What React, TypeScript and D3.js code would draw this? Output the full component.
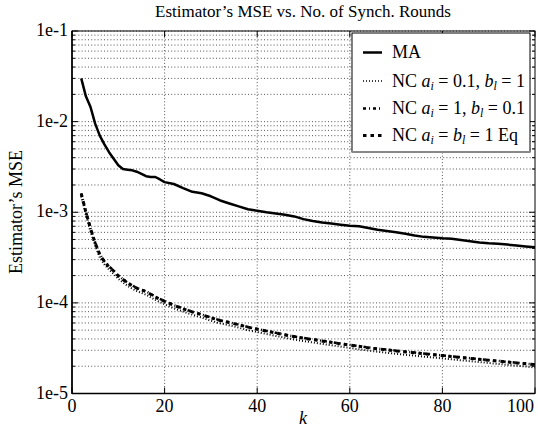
import React from "react";
import * as d3 from "d3";

// MA estimator
const maK = [2, 3, 4, 5, 6, 7, 8, 9, 10, 11, 12, 13, 14, 15, 16, 17, 18, 19, 20, 22, 24, 26, 28, 30, 32, 34, 36, 38, 40, 42, 44, 46, 48, 50, 52, 54, 56, 58, 60, 62, 64, 66, 68, 70, 72, 74, 76, 78, 80, 82, 84, 86, 88, 90, 92, 94, 96, 98, 100];
const maMSE = [3.0e-2, 1.9e-2, 1.45e-2, 9.5e-3, 7.0e-3, 5.6e-3, 4.6e-3, 3.9e-3, 3.3e-3, 3.0e-3, 2.95e-3, 2.9e-3, 2.8e-3, 2.65e-3, 2.5e-3, 2.45e-3, 2.45e-3, 2.3e-3, 2.15e-3, 2.05e-3, 1.85e-3, 1.68e-3, 1.62e-3, 1.5e-3, 1.35e-3, 1.25e-3, 1.16e-3, 1.08e-3, 1.04e-3, 1.0e-3, 9.7e-4, 9.4e-4, 9.0e-4, 8.4e-4, 8.0e-4, 7.7e-4, 7.5e-4, 7.3e-4, 7.1e-4, 7.0e-4, 6.7e-4, 6.4e-4, 6.2e-4, 6.0e-4, 5.8e-4, 5.55e-4, 5.35e-4, 5.25e-4, 5.15e-4, 5.1e-4, 4.95e-4, 4.8e-4, 4.65e-4, 4.55e-4, 4.5e-4, 4.4e-4, 4.3e-4, 4.2e-4, 4.1e-4];

// NC estimators
const ncK = [2, 3, 4, 5, 6, 7, 8, 9, 10, 12, 14, 16, 18, 20, 22, 24, 26, 28, 30, 32, 35, 38, 41, 44, 47, 50, 55, 60, 65, 70, 75, 80, 85, 90, 95, 100];
const ncEq = [1.6e-3, 1.0e-3, 6.6e-4, 4.6e-4, 3.4e-4, 2.85e-4, 2.5e-4, 2.25e-4, 1.98e-4, 1.66e-4, 1.45e-4, 1.33e-4, 1.16e-4, 1.04e-4, 9.4e-5, 8.6e-5, 7.95e-5, 7.4e-5, 6.85e-5, 6.4e-5, 5.9e-5, 5.4e-5, 5.0e-5, 4.65e-5, 4.33e-5, 4.08e-5, 3.73e-5, 3.42e-5, 3.15e-5, 2.95e-5, 2.78e-5, 2.62e-5, 2.47e-5, 2.33e-5, 2.2e-5, 2.08e-5];
const ncDashDot = [1.62e-3, 1.02e-3, 6.7e-4, 4.65e-4, 3.45e-4, 2.88e-4, 2.52e-4, 2.27e-4, 2.0e-4, 1.67e-4, 1.46e-4, 1.34e-4, 1.17e-4, 1.05e-4, 9.45e-5, 8.65e-5, 8.0e-5, 7.45e-5, 6.9e-5, 6.42e-5, 5.92e-5, 5.42e-5, 5.02e-5, 4.67e-5, 4.35e-5, 4.1e-5, 3.75e-5, 3.44e-5, 3.17e-5, 2.97e-5, 2.8e-5, 2.63e-5, 2.48e-5, 2.34e-5, 2.21e-5, 2.09e-5];
const ncDotted = [1.5e-3, 9.3e-4, 6.1e-4, 4.3e-4, 3.15e-4, 2.65e-4, 2.32e-4, 2.09e-4, 1.84e-4, 1.54e-4, 1.35e-4, 1.23e-4, 1.08e-4, 9.65e-5, 8.7e-5, 8.0e-5, 7.4e-5, 6.9e-5, 6.35e-5, 5.95e-5, 5.5e-5, 5.0e-5, 4.65e-5, 4.32e-5, 4.03e-5, 3.79e-5, 3.47e-5, 3.18e-5, 2.93e-5, 2.74e-5, 2.58e-5, 2.44e-5, 2.3e-5, 2.17e-5, 2.05e-5, 1.94e-5];

const xTicks = [0, 20, 40, 60, 80, 100];
const yTicks = [1e-1, 1e-2, 1e-3, 1e-4, 1e-5];
const yTickLabels = ["1e-1", "1e-2", "1e-3", "1e-4", "1e-5"];

const W = 538;
const H = 430;
const serif = "'Liberation Serif', 'DejaVu Serif', serif";

export default function App() {
  const x = d3.scaleLinear().domain([0, 100]).range([72, 535]);
  const y = d3.scaleLog().domain([1e-5, 1e-1]).range([393.5, 31]);

  const line = d3
    .line<[number, number]>()
    .x((d) => x(d[0]))
    .y((d) => y(d[1]));

  const pts = (ks: number[], vs: number[]) => ks.map((k, i) => [k, vs[i]] as [number, number]);

  // minor + major log grid
  const yGrid: number[] = [];
  for (let e = -5; e < -1; e++) {
    for (let m = 1; m <= 9; m++) yGrid.push(m * Math.pow(10, e));
  }
  yGrid.push(1e-1);

  const [x0, x1] = x.range();
  const [yb, yt] = y.range();

  const legend = [
    { dash: "none", w: 2.5 },
    { dash: "1,2", w: 1.5 },
    { dash: "3,3,1,3", w: 2.5 },
    { dash: "3.5,4", w: 3 },
  ];
  const legendBase = [58, 86.5, 114, 141];

  return (
    <svg width={W} height={H} style={{ position: "absolute", left: 0, top: 0, background: "#fff" }} fontFamily={serif}>
      {/* grid */}
      {yGrid.map((v, i) => (
        <line key={"hg" + i} x1={x0} x2={x1} y1={y(v)} y2={y(v)} stroke="#000" strokeOpacity={0.75} strokeWidth={0.9} strokeDasharray="1,2.2" />
      ))}
      {xTicks.slice(1, -1).map((t) => (
        <line key={"vg" + t} x1={x(t)} x2={x(t)} y1={yb} y2={yt} stroke="#000" strokeOpacity={0.75} strokeWidth={0.9} strokeDasharray="1,2.2" />
      ))}

      {/* minor/major ticks on left and right */}
      {yGrid.map((v, i) => {
        const major = yTicks.includes(v);
        const len = major ? 6 : 3;
        return (
          <g key={"yt" + i}>
            <line x1={x0} x2={x0 + len} y1={y(v)} y2={y(v)} stroke="#000" strokeWidth={1} />
            <line x1={x1} x2={x1 - len} y1={y(v)} y2={y(v)} stroke="#000" strokeWidth={1} />
          </g>
        );
      })}
      {xTicks.map((t) => (
        <g key={"xt" + t}>
          <line x1={x(t)} x2={x(t)} y1={yb} y2={yb - 6} stroke="#000" strokeWidth={1} />
          <line x1={x(t)} x2={x(t)} y1={yt} y2={yt + 6} stroke="#000" strokeWidth={1} />
        </g>
      ))}

      {/* frame */}
      <rect x={x0} y={yt} width={x1 - x0} height={yb - yt} fill="none" stroke="#000" strokeWidth={1} />
      <line x1={x0} x2={x0} y1={yt} y2={yb} stroke="#000" strokeWidth={1.6} />
      <line x1={x0} x2={x1} y1={yb} y2={yb} stroke="#000" strokeWidth={1.6} />

      {/* series */}
      <path d={line(pts(maK, maMSE)) ?? ""} fill="none" stroke="#000" strokeWidth={2.5} strokeLinejoin="round" />
      <path d={line(pts(ncK, ncDotted)) ?? ""} fill="none" stroke="#000" strokeWidth={2} strokeDasharray="1,2" />
      <path d={line(pts(ncK, ncDashDot)) ?? ""} fill="none" stroke="#000" strokeWidth={2.5} strokeDasharray="3,3,1,3" />
      <path d={line(pts(ncK, ncEq)) ?? ""} fill="none" stroke="#000" strokeWidth={3} strokeDasharray="3.5,4" />

      {/* tick labels */}
      {xTicks.map((t, i) => {
        const last = i === xTicks.length - 1;
        return (
          <text key={"xl" + t} x={last ? x1 - 1 : x(t)} y={412} fontSize={18} textAnchor={last ? "end" : "middle"}>
            {t}
          </text>
        );
      })}
      {yTicks.map((t, i) => (
        <text key={"yl" + t} x={68} y={y(t) + 5} fontSize={18} textAnchor="end">
          {yTickLabels[i]}
        </text>
      ))}

      {/* titles */}
      <text x={303} y={17} fontSize={17} textAnchor="middle">
        Estimator’s MSE vs. No. of Synch. Rounds
      </text>
      <text x={303} y={424} fontSize={18} textAnchor="middle" fontStyle="italic">
        k
      </text>
      <text transform="translate(22,212) rotate(-90)" fontSize={18} textAnchor="middle">
        Estimator’s MSE
      </text>

      {/* legend */}
      <rect x={352} y={33} width={178} height={119} fill="#fff" stroke="#000" strokeWidth={1} />
      <line x1={352} x2={530} y1={152} y2={152} stroke="#888" strokeWidth={2} />
      {legend.map((l, i) => (
        <line
          key={"ll" + i}
          x1={363}
          x2={382}
          y1={legendBase[i] - 5.5}
          y2={legendBase[i] - 5.5}
          stroke="#000"
          strokeWidth={l.w}
          strokeDasharray={l.dash}
        />
      ))}
      <text x={392} y={legendBase[0]} fontSize={18}>MA</text>
      <text x={392} y={legendBase[1]} fontSize={18}>
        NC <tspan fontStyle="italic">a</tspan>
        <tspan fontStyle="italic" fontSize={12} dy={3}>i</tspan>
        <tspan dy={-3}> = 0.1, </tspan>
        <tspan fontStyle="italic">b</tspan>
        <tspan fontStyle="italic" fontSize={12} dy={3}>l</tspan>
        <tspan dy={-3}> = 1</tspan>
      </text>
      <text x={392} y={legendBase[2]} fontSize={18}>
        NC <tspan fontStyle="italic">a</tspan>
        <tspan fontStyle="italic" fontSize={12} dy={3}>i</tspan>
        <tspan dy={-3}> = 1, </tspan>
        <tspan fontStyle="italic">b</tspan>
        <tspan fontStyle="italic" fontSize={12} dy={3}>l</tspan>
        <tspan dy={-3}> = 0.1</tspan>
      </text>
      <text x={392} y={legendBase[3]} fontSize={18}>
        NC <tspan fontStyle="italic">a</tspan>
        <tspan fontStyle="italic" fontSize={12} dy={3}>i</tspan>
        <tspan dy={-3}> = </tspan>
        <tspan fontStyle="italic">b</tspan>
        <tspan fontStyle="italic" fontSize={12} dy={3}>l</tspan>
        <tspan dy={-3}> = 1 Eq</tspan>
      </text>
    </svg>
  );
}
